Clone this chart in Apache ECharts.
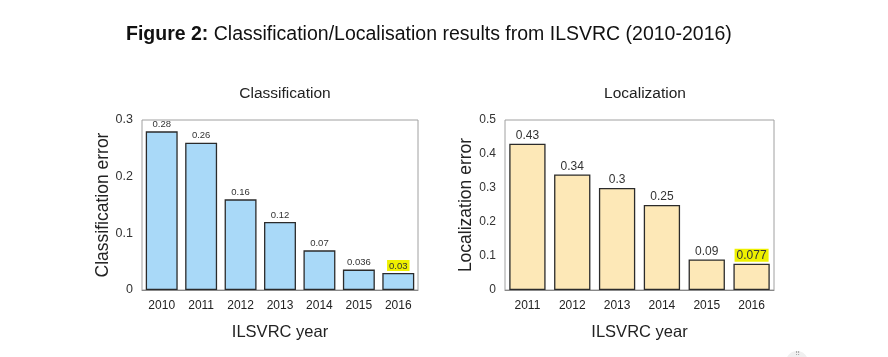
<!DOCTYPE html>
<html>
<head>
<meta charset="utf-8">
<script src="https://cdn.jsdelivr.net/npm/echarts@6/dist/echarts.min.js"></script>
<style>
html,body{margin:0;padding:0;background:#fff;}
#chart{width:888px;height:357px;}
</style>
</head>
<body>
<div id="chart"></div>
<script>
const clsYears = ['2010','2011','2012','2013','2014','2015','2016'];
const clsError = [0.28, 0.26, 0.16, 0.12, 0.07, 0.036, 0.03];
const locYears = ['2011','2012','2013','2014','2015','2016'];
const locError = [0.43, 0.34, 0.3, 0.25, 0.09, 0.077];
const clsTicks = [0, 0.1, 0.2, 0.3];
const locTicks = [0, 0.1, 0.2, 0.3, 0.4, 0.5];

const FONT = '"Liberation Sans", Arial, Helvetica, sans-serif';
const chart = echarts.init(document.getElementById('chart'), null, {renderer: 'canvas'});

function barData(vals, color) {
  return vals.map((v, i) => {
    const d = {value: v, itemStyle: {color: color, borderColor: '#2b2b2b', borderWidth: 1.3}};
    if (i === vals.length - 1) {
      d.label = {backgroundColor: '#eef000', padding: [1, 2, 0, 2]};
    }
    return d;
  });
}

function tickFmt(v) { return v === 0 ? '0' : String(+v.toFixed(1)); }

const option = {
  backgroundColor: '#ffffff',
  animation: false,
  textStyle: {fontFamily: FONT},
  title: [
    {
      text: '{b|Figure 2:} Classification/Localisation results from ILSVRC (2010-2016)',
      left: 121, top: 20,
      textStyle: {
        fontFamily: FONT, fontSize: 19.5, fontWeight: 'normal', color: '#111',
        rich: {b: {fontFamily: FONT, fontSize: 19.5, fontWeight: 'bold', color: '#111'}}
      }
    },
    {
      text: 'Classification', left: 280, top: 81, textAlign: 'center',
      textStyle: {fontFamily: FONT, fontSize: 15.5, fontWeight: 'normal', color: '#222'}
    },
    {
      text: 'Localization', left: 640, top: 81, textAlign: 'center',
      textStyle: {fontFamily: FONT, fontSize: 15.5, fontWeight: 'normal', color: '#222'}
    }
  ],
  grid: [
    {left: 142, right: 470, top: 120, bottom: 67, show: true, borderColor: '#a0a0a0', borderWidth: 1, backgroundColor: 'transparent'},
    {left: 505, right: 114, top: 120, bottom: 67, show: true, borderColor: '#a0a0a0', borderWidth: 1, backgroundColor: 'transparent'}
  ],
  xAxis: [
    {
      type: 'category', gridIndex: 0, data: clsYears,
      name: 'ILSVRC year', nameLocation: 'middle', nameGap: 34,
      nameTextStyle: {fontFamily: FONT, fontSize: 16.5, color: '#222'},
      axisLine: {show: true, lineStyle: {color: '#888'}},
      axisTick: {show: false},
      axisLabel: {fontFamily: FONT, fontSize: 12, color: '#222', margin: 10, interval: 0}
    },
    {
      type: 'category', gridIndex: 1, data: locYears,
      name: 'ILSVRC year', nameLocation: 'middle', nameGap: 34,
      nameTextStyle: {fontFamily: FONT, fontSize: 16.5, color: '#222'},
      axisLine: {show: true, lineStyle: {color: '#888'}},
      axisTick: {show: false},
      axisLabel: {fontFamily: FONT, fontSize: 12, color: '#222', margin: 10, interval: 0}
    }
  ],
  yAxis: [
    {
      type: 'value', gridIndex: 0, min: clsTicks[0], max: clsTicks[clsTicks.length - 1], interval: 0.1,
      name: 'Classification error', nameLocation: 'middle', nameGap: 30, nameRotate: 90,
      nameTextStyle: {fontFamily: FONT, fontSize: 17.5, color: '#222'},
      axisLine: {show: false}, axisTick: {show: false}, splitLine: {show: false},
      axisLabel: {fontFamily: FONT, fontSize: 12.5, color: '#333', margin: 9, formatter: tickFmt}
    },
    {
      type: 'value', gridIndex: 1, min: locTicks[0], max: locTicks[locTicks.length - 1], interval: 0.1,
      name: 'Localization error', nameLocation: 'middle', nameGap: 28, nameRotate: 90,
      nameTextStyle: {fontFamily: FONT, fontSize: 17.5, color: '#222'},
      axisLine: {show: false}, axisTick: {show: false}, splitLine: {show: false},
      axisLabel: {fontFamily: FONT, fontSize: 12, color: '#333', margin: 9, formatter: tickFmt}
    }
  ],
  series: [
    {
      type: 'bar', xAxisIndex: 0, yAxisIndex: 0,
      data: barData(clsError, '#a9d9f8'),
      barCategoryGap: '19%',
      label: {show: true, position: 'top', distance: 2, fontFamily: FONT, fontSize: 9.5, color: '#333'}
    },
    {
      type: 'bar', xAxisIndex: 1, yAxisIndex: 1,
      data: barData(locError, '#fde8b7'),
      barCategoryGap: '19%',
      label: {show: true, position: 'top', distance: 2, fontFamily: FONT, fontSize: 12, color: '#333'}
    }
  ],
  graphic: [
    {type: 'circle', shape: {cx: 797, cy: 362, r: 11}, style: {fill: '#f0f0f0'}, silent: true},
    {type: 'text', x: 797, y: 354, style: {text: '⠿', fill: '#aaa', fontSize: 7, align: 'center', verticalAlign: 'middle'}, silent: true}
  ]
};
chart.setOption(option);
</script>
</body>
</html>
